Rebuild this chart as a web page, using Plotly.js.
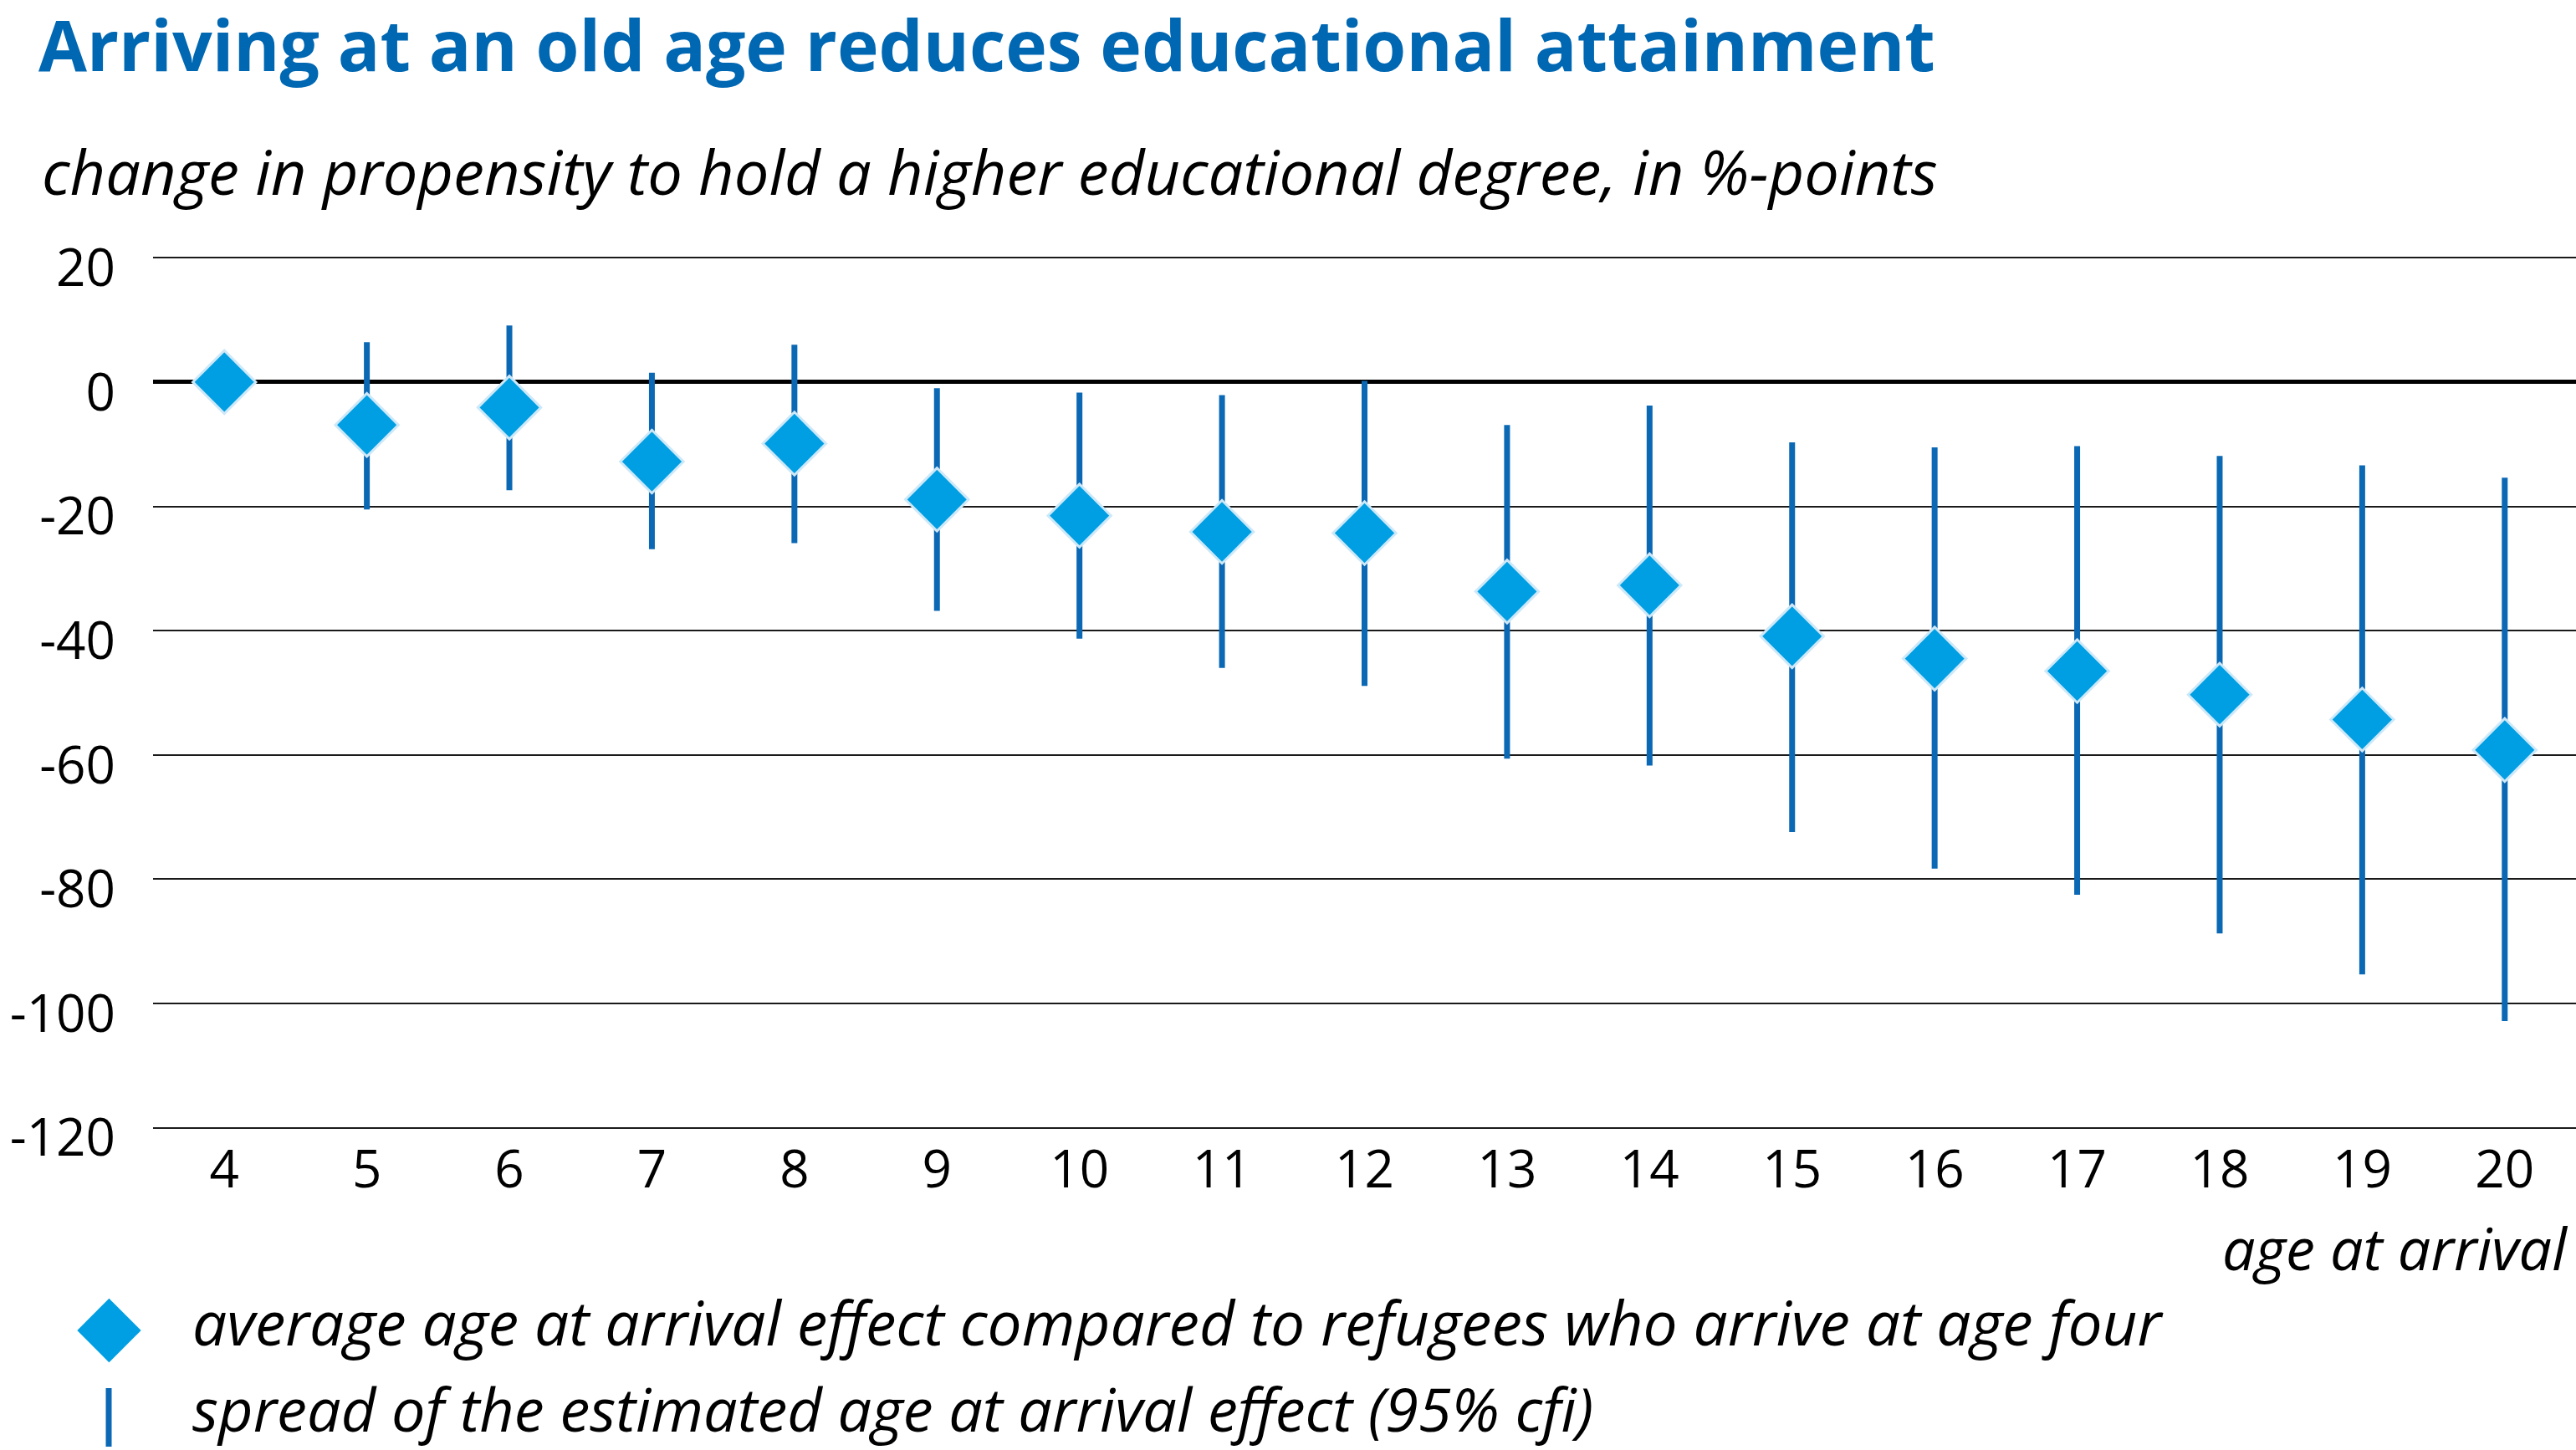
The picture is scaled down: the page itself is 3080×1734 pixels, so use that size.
<!DOCTYPE html>
<html>
<head>
<meta charset="utf-8">
<script src="https://cdn.plot.ly/plotly-3.0.1.min.js"></script>
<style>
  html, body { margin: 0; padding: 0; background: #ffffff; }
  #chart { width: 3080px; height: 1734px; }
</style>
</head>
<body>
<div id="chart"></div>
<script>
// ---- data ----
const ages = [4, 5, 6, 7, 8, 9, 10, 11, 12, 13, 14, 15, 16, 17, 18, 19, 20];
const effect = [0, -6.9, -4.1, -12.8, -9.9, -18.9, -21.5, -24.1, -24.3, -33.7, -32.7, -40.9, -44.5, -46.5, -50.3, -54.3, -59.2];
const ciUpper = [0, 6.4, 9.1, 1.5, 6.0, -1.0, -1.7, -2.1, 0.2, -6.9, -3.8, -9.7, -10.5, -10.3, -11.9, -13.4, -15.4];
const ciLower = [0, -20.5, -17.4, -26.9, -25.9, -36.8, -41.3, -46.0, -48.9, -60.6, -61.7, -72.4, -78.3, -82.5, -88.7, -95.3, -102.8];
const xTickText = ages.map(String);
const yTickVals = [20, 0, -20, -40, -60, -80, -100, -120];
const yTickText = ["20", "0", "-20", "-40", "-60", "-80", "-100", "-120"];

const titleText = "Arriving at an old age reduces educational attainment";
const subtitleText = "change in propensity to hold a higher educational degree, in %-points";
const xTitleText = "age at arrival";
const legendTexts = [
  "average age at arrival effect compared to refugees who arrive at age four",
  "spread of the estimated age at arrival effect (95% cfi)"
];

// ---- styling ----
const FONT = "Open Sans, sans-serif";
const W = 3080, H = 1734;
const M = { l: 183, r: 0, t: 306, b: 383 };
const plotH = H - M.t - M.b;
const plotW = W - M.l - M.r;
const py = Y => (H - M.b - Y) / plotH;   // page pixel -> paper y
const px = X => (X - M.l) / plotW;        // page pixel -> paper x

const errPlus = ciUpper.map((u, i) => u - effect[i]);
const errMinus = ciLower.map((l, i) => effect[i] - l);

const trace = {
  type: "scatter",
  mode: "markers",
  x: ages,
  y: effect,
  showlegend: false,
  hoverinfo: "x+y",
  marker: {
    symbol: "diamond",
    size: 58,
    color: "#009fe3",
    line: { color: "#cde8f8", width: 3 }
  },
  error_y: {
    type: "data",
    symmetric: false,
    array: errPlus,
    arrayminus: errMinus,
    color: "#0a68b4",
    thickness: 7,
    width: 0
  }
};

const layout = {
  width: W,
  height: H,
  paper_bgcolor: "#ffffff",
  plot_bgcolor: "#ffffff",
  margin: M,
  font: { family: FONT, color: "#000000", size: 62 },
  title: {
    text: "<b>" + titleText + "</b>",
    font: { family: FONT, size: 84, color: "#0067b3" },
    xref: "container", yref: "container",
    x: 46 / W, xanchor: "left",
    y: 1 - 56 / H, yanchor: "middle"
  },
  xaxis: {
    range: [3.5, 20.5],
    tickmode: "array",
    tickvals: ages,
    ticktext: xTickText,
    showgrid: false,
    zeroline: false,
    showline: false,
    ticks: "",
    ticklabelstandoff: 6,
    tickfont: { family: FONT, size: 62, color: "#000" },
    fixedrange: true
  },
  yaxis: {
    range: [-120.3, 20.3],
    tickmode: "array",
    tickvals: yTickVals,
    ticktext: yTickText,
    showgrid: true,
    gridcolor: "#1a1a1a",
    gridwidth: 2,
    zeroline: true,
    zerolinecolor: "#000000",
    zerolinewidth: 5,
    showline: false,
    ticks: "",
    ticklabelstandoff: 44,
    ticklabelshift: 12,
    tickfont: { family: FONT, size: 62, color: "#000" },
    fixedrange: true
  },
  annotations: [
    {
      text: "<i>" + subtitleText + "</i>",
      xref: "paper", yref: "paper",
      x: px(48), xanchor: "left",
      y: py(205), yanchor: "middle",
      showarrow: false,
      font: { family: FONT, size: 74, color: "#000" }
    },
    {
      text: "<i>" + xTitleText + "</i>",
      xref: "paper", yref: "paper",
      x: px(3072), xanchor: "right",
      y: py(1492), yanchor: "middle",
      showarrow: false,
      font: { family: FONT, size: 70, color: "#000" }
    },
    {
      text: "◆",
      xref: "paper", yref: "paper",
      x: px(130), xanchor: "center",
      y: py(1582), yanchor: "middle",
      showarrow: false,
      font: { family: "DejaVu Sans", size: 100, color: "#009fe3" }
    },
    {
      text: "<i>" + legendTexts[0] + "</i>",
      xref: "paper", yref: "paper",
      x: px(228), xanchor: "left",
      y: py(1580), yanchor: "middle",
      showarrow: false,
      font: { family: FONT, size: 73, color: "#000" }
    },
    {
      text: "<i>" + legendTexts[1] + "</i>",
      xref: "paper", yref: "paper",
      x: px(228), xanchor: "left",
      y: py(1684), yanchor: "middle",
      showarrow: false,
      font: { family: FONT, size: 72, color: "#000" }
    }
  ],
  shapes: [
    {
      type: "line",
      xref: "paper", yref: "paper",
      x0: px(130), x1: px(130),
      y0: py(1660), y1: py(1730),
      line: { color: "#0a68b4", width: 7 }
    }
  ]
};

Plotly.newPlot("chart", [trace], layout, { displayModeBar: false, staticPlot: true });
</script>
</body>
</html>
